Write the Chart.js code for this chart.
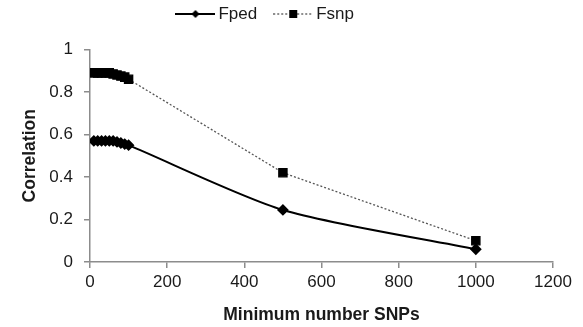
<!DOCTYPE html>
<html>
<head>
<meta charset="utf-8">
<script src="https://cdn.jsdelivr.net/npm/chart.js@4"></script>
<style>
  html, body { margin: 0; padding: 0; background: #fff; }
  #wrap { width: 583px; height: 327px; }
</style>
</head>
<body>
<div id="wrap"><canvas id="chart" width="583" height="327"></canvas></div>
<script>
const minSnps = [10, 20, 30, 40, 50, 60, 70, 80, 90, 100, 500, 1000]
const fped = [0.57, 0.57, 0.57, 0.57, 0.57, 0.57, 0.565, 0.56, 0.555, 0.55, 0.245, 0.06]
const fsnp = [0.89, 0.89, 0.89, 0.89, 0.89, 0.885, 0.88, 0.875, 0.87, 0.86, 0.42, 0.10]
const xTicks = [0, 200, 400, 600, 800, 1000, 1200]
const yTicks = [0, 0.2, 0.4, 0.6, 0.8, 1]

const axisGray = '#8c8c8c'
const textColor = '#1a1a1a'
const font = 'Liberation Sans, Arial, sans-serif'

// little legend swatches: a line with the marker in the middle
function makeSwatch(dashed, marker) {
  const c = document.createElement('canvas')
  c.width = 40
  c.height = 12
  const g = c.getContext('2d')
  g.strokeStyle = dashed ? '#444' : '#000'
  g.lineWidth = dashed ? 1.2 : 2
  g.setLineDash(dashed ? [2, 2] : [])
  g.beginPath()
  g.moveTo(0, 6)
  g.lineTo(40, 6)
  g.stroke()
  g.fillStyle = '#000'
  if (marker === 'diamond') {
    g.beginPath()
    g.moveTo(20, 2)
    g.lineTo(24, 6)
    g.lineTo(20, 10)
    g.lineTo(16, 6)
    g.closePath()
    g.fill()
  } else {
    g.fillRect(16, 2, 8, 8)
  }
  return c
}

const toPoints = (xs, ys) => xs.map((x, i) => ({ x: x, y: ys[i] }))

// tweak the space under the legend and nudge it left, like the original
const legendGap = {
  id: 'legendGap',
  beforeInit(chart) {
    const fit = chart.legend.fit
    chart.legend.fit = function () {
      fit.call(this)
      this.height += 17
    }
  },
  afterUpdate(chart) {
    chart.legend.left -= 17
    chart.legend.right -= 17
  }
}

new Chart(document.getElementById('chart'), {
  type: 'line',
  data: {
    datasets: [
      {
        label: 'Fped',
        data: toPoints(minSnps, fped),
        borderColor: '#000',
        backgroundColor: '#000',
        borderWidth: 2,
        pointStyle: 'rectRot',
        pointRadius: 4.5,
        pointHoverRadius: 4.5,
        tension: 0.25
      },
      {
        label: 'Fsnp',
        data: toPoints(minSnps, fsnp),
        borderColor: '#555',
        backgroundColor: '#000',
        pointBorderColor: '#000',
        borderWidth: 1.3,
        borderDash: [2, 2],
        pointStyle: 'rect',
        pointRadius: 5.8,
        pointHoverRadius: 5.8,
        tension: 0
      }
    ]
  },
  plugins: [legendGap],
  options: {
    responsive: false,
    animation: false,
    layout: { padding: { top: -16, right: 30, left: 16, bottom: 0 } },
    plugins: {
      tooltip: { enabled: false },
      legend: {
        position: 'top',
        labels: {
          usePointStyle: true,
          pointStyleWidth: 29,
          color: textColor,
          font: { family: font, size: 17 },
          padding: 21.5,
          generateLabels: (chart) => [
            { text: 'Fped', pointStyle: makeSwatch(false, 'diamond'), datasetIndex: 0, fontColor: textColor, lineWidth: 0, strokeStyle: 'transparent' },
            { text: 'Fsnp', pointStyle: makeSwatch(true, 'square'), datasetIndex: 1, fontColor: textColor, lineWidth: 0, strokeStyle: 'transparent' }
          ]
        }
      }
    },
    scales: {
      x: {
        type: 'linear',
        min: 0,
        max: 1200,
        afterBuildTicks: (axis) => { axis.ticks = xTicks.map(v => ({ value: v })) },
        afterFit: (axis) => { axis.height = 65 },
        border: { color: axisGray, width: 1.5 },
        grid: { drawOnChartArea: false, drawTicks: true, tickLength: 6, color: axisGray, lineWidth: 1.5 },
        ticks: {
          color: textColor,
          font: { family: font, size: 17 },
          padding: 4,
          maxRotation: 0,
          callback: (v) => String(v)
        },
        title: {
          display: true,
          text: 'Minimum number SNPs',
          color: textColor,
          font: { family: font, size: 17.5, weight: 'bold' },
          padding: { top: 4, bottom: 1 }
        }
      },
      y: {
        min: 0,
        max: 1,
        afterBuildTicks: (axis) => { axis.ticks = yTicks.map(v => ({ value: v })) },
        afterFit: (axis) => { axis.width = 74 },
        border: { color: axisGray, width: 1.5 },
        grid: { drawOnChartArea: false, drawTicks: true, tickLength: 6, color: axisGray, lineWidth: 1.5 },
        ticks: {
          color: textColor,
          font: { family: font, size: 17 },
          padding: 11,
          callback: (v) => String(Math.round(v * 10) / 10)
        },
        title: {
          display: true,
          text: 'Correlation',
          color: textColor,
          font: { family: font, size: 17.5, weight: 'bold' },
          padding: { bottom: 4 }
        }
      }
    }
  }
})
</script>
</body>
</html>
